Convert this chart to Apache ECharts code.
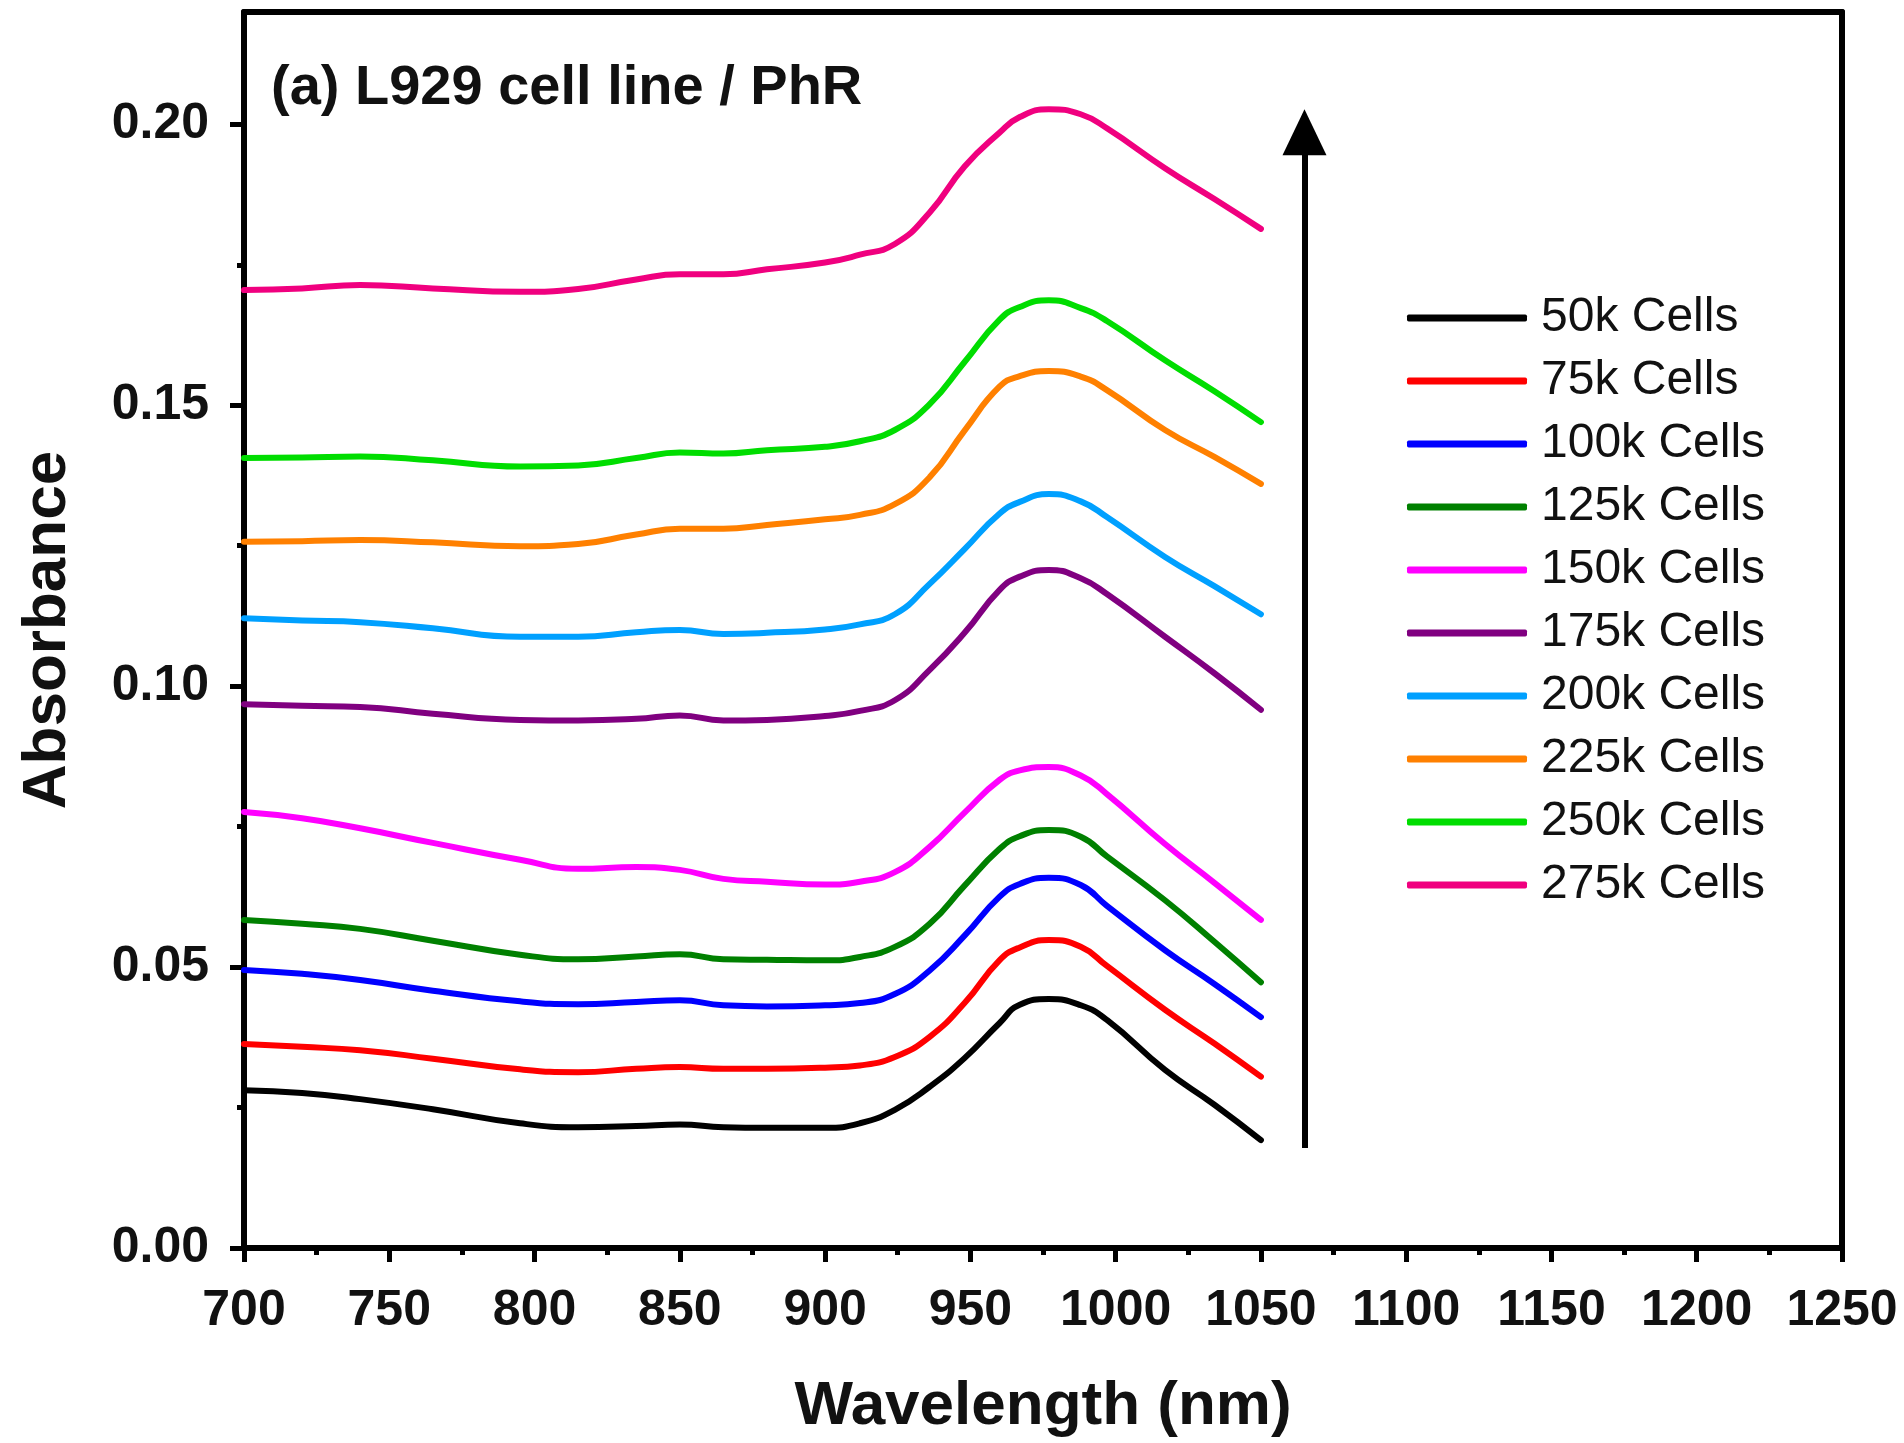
<!DOCTYPE html>
<html>
<head>
<meta charset="utf-8">
<script src="https://cdn.jsdelivr.net/npm/echarts@6/dist/echarts.min.js"></script>
<style>
  html, body { margin: 0; padding: 0; background: #fff; }
  #main { width: 1904px; height: 1443px; }
</style>
</head>
<body>
<div id="main"></div>
<script>
// wavelength grid (nm)
var wavelength = [700, 720, 740, 765, 795, 815, 835, 850, 865, 880, 900, 912, 924, 936, 948, 960, 967, 977, 988, 997, 1017, 1034, 1050];

// absorbance, one array per cell count
var cells50k  = [0.0281, 0.0276, 0.0265, 0.0247, 0.0222, 0.0215, 0.0217, 0.0220, 0.0215, 0.0214, 0.0214, 0.0222, 0.0246, 0.0287, 0.0338, 0.0400, 0.0433, 0.0443, 0.0432, 0.0406, 0.0317, 0.0255, 0.0192];
var cells75k  = [0.0363, 0.0358, 0.0352, 0.0337, 0.0318, 0.0313, 0.0319, 0.0322, 0.0319, 0.0319, 0.0321, 0.0325, 0.0340, 0.0376, 0.0436, 0.0512, 0.0535, 0.0548, 0.0536, 0.0502, 0.0424, 0.0364, 0.0305];
var cells100k = [0.0495, 0.0488, 0.0477, 0.0458, 0.0439, 0.0434, 0.0438, 0.0441, 0.0432, 0.0430, 0.0432, 0.0436, 0.0452, 0.0494, 0.0556, 0.0625, 0.0648, 0.0659, 0.0646, 0.0609, 0.0530, 0.0470, 0.0411];
var cells125k = [0.0584, 0.0577, 0.0568, 0.0547, 0.0522, 0.0514, 0.0519, 0.0523, 0.0514, 0.0513, 0.0512, 0.0518, 0.0536, 0.0577, 0.0645, 0.0710, 0.0733, 0.0744, 0.0732, 0.0697, 0.0619, 0.0545, 0.0473];
var cells150k = [0.0776, 0.0765, 0.0747, 0.0721, 0.0691, 0.0675, 0.0678, 0.0673, 0.0657, 0.0652, 0.0647, 0.0652, 0.0669, 0.0714, 0.0775, 0.0833, 0.0850, 0.0856, 0.0841, 0.0808, 0.0719, 0.0650, 0.0584];
var cells175k = [0.0968, 0.0965, 0.0963, 0.0951, 0.0940, 0.0939, 0.0942, 0.0948, 0.0939, 0.0940, 0.0947, 0.0956, 0.0975, 0.1029, 0.1095, 0.1171, 0.1195, 0.1207, 0.1192, 0.1164, 0.1088, 0.1023, 0.0958];
var cells200k = [0.1121, 0.1117, 0.1114, 0.1103, 0.1088, 0.1088, 0.1096, 0.1100, 0.1093, 0.1095, 0.1101, 0.1110, 0.1128, 0.1182, 0.1244, 0.1307, 0.1328, 0.1342, 0.1329, 0.1301, 0.1230, 0.1178, 0.1128];
var cells225k = [0.1257, 0.1258, 0.1260, 0.1256, 0.1249, 0.1253, 0.1270, 0.1280, 0.1280, 0.1287, 0.1297, 0.1305, 0.1324, 0.1372, 0.1455, 0.1533, 0.1552, 0.1561, 0.1551, 0.1527, 0.1456, 0.1408, 0.1360];
var cells250k = [0.1406, 0.1407, 0.1409, 0.1402, 0.1391, 0.1393, 0.1406, 0.1416, 0.1414, 0.1420, 0.1426, 0.1436, 0.1456, 0.1502, 0.1577, 0.1652, 0.1675, 0.1687, 0.1673, 0.1650, 0.1580, 0.1525, 0.1470];
var cells275k = [0.1705, 0.1708, 0.1714, 0.1708, 0.1702, 0.1707, 0.1724, 0.1733, 0.1733, 0.1742, 0.1754, 0.1768, 0.1787, 0.1843, 0.1925, 0.1985, 0.2013, 0.2027, 0.2018, 0.1993, 0.1922, 0.1867, 0.1814];

var seriesNames = ['50k Cells', '75k Cells', '100k Cells', '125k Cells', '150k Cells', '175k Cells', '200k Cells', '225k Cells', '250k Cells', '275k Cells'];
var seriesValues = [cells50k, cells75k, cells100k, cells125k, cells150k, cells175k, cells200k, cells225k, cells250k, cells275k];
var seriesColors = ['#000000', '#ff0000', '#0000ff', '#008000', '#ff00ff', '#800080', '#00a0ff', '#ff8000', '#00dd00', '#f0007f'];

// ticks
var yTicks = [0, 0.05, 0.10, 0.15, 0.20];
var yMinorTicks = [0.025, 0.075, 0.125, 0.175];

// the "increasing" arrow
var arrowX = 1065;
var arrowY = [0.0178, 0.1986];

var FONT = 'Liberation Sans, Arial, sans-serif';

var myChart = echarts.init(document.getElementById('main'));

var series = [];
for (var i = 0; i < seriesNames.length; i++) {
	var pts = [];
	for (var j = 0; j < wavelength.length; j++) {
		pts.push([wavelength[j], seriesValues[i][j]]);
	}
	series.push({
		name: seriesNames[i],
		type: 'line',
		data: pts,
		smooth: 0.5,
		symbol: 'none',
		lineStyle: { color: seriesColors[i], width: 6, cap: 'round', join: 'round' },
		itemStyle: { color: seriesColors[i] }
	});
}
// arrow drawn as a markLine through the axes
series[series.length - 1].markLine = {
	silent: true,
	symbol: ['none', 'triangle'],
	symbolSize: [44, 46],
	label: { show: false },
	lineStyle: { color: '#000', width: 6, type: 'solid' },
	itemStyle: { color: '#000' },
	data: [[{ coord: [arrowX, arrowY[0]] }, { coord: [arrowX, arrowY[1]] }]]
};

var legendData = [];
for (var k = 0; k < seriesNames.length; k++) {
	legendData.push({ name: seriesNames[k], icon: 'roundRect', itemStyle: { color: seriesColors[k] } });
}

var option = {
	animation: false,
	backgroundColor: '#fff',
	title: {
		text: '(a) L929 cell line / PhR',
		left: 266,
		top: 56,
		textStyle: { fontFamily: FONT, fontWeight: 'bold', fontSize: 56, color: '#111' }
	},
	legend: {
		orient: 'vertical',
		left: 1402,
		top: 287,
		itemWidth: 120,
		itemHeight: 7,
		itemGap: 11,
		data: legendData,
		textStyle: { fontFamily: FONT, fontSize: 48, color: '#111', lineHeight: 52, padding: [0, 0, 0, 9] }
	},
	grid: { left: 244, right: 62, top: 12, bottom: 192 },
	xAxis: [{
		type: 'value',
		min: 700,
		max: 1250,
		interval: 50,
		name: 'Wavelength (nm)',
		nameLocation: 'middle',
		nameGap: 128,
		nameTextStyle: { fontFamily: FONT, fontWeight: 'bold', fontSize: 62, color: '#111' },
		axisLine: { onZero: false, lineStyle: { color: '#000', width: 6 } },
		axisTick: { length: 14, lineStyle: { color: '#000', width: 5 } },
		minorTick: { show: true, splitNumber: 2, length: 7, lineStyle: { color: '#000', width: 5 } },
		splitLine: { show: false },
		axisLabel: { margin: 38, fontFamily: FONT, fontWeight: 'bold', fontSize: 50, color: '#111',
			formatter: function (v) { return String(v); } }
	}, {
		type: 'value', position: 'top', min: 700, max: 1250,
		axisLine: { show: true, onZero: false, lineStyle: { color: '#000', width: 6 } },
		axisTick: { show: false }, axisLabel: { show: false }, splitLine: { show: false }
	}],
	yAxis: [{
		type: 'value',
		min: 0,
		max: 0.22,
		name: 'Absorbance',
		nameLocation: 'middle',
		nameGap: 165,
		nameTextStyle: { fontFamily: FONT, fontWeight: 'bold', fontSize: 62, color: '#111' },
		axisLine: { onZero: false, lineStyle: { color: '#000', width: 6 } },
		axisTick: { length: 14, customValues: yTicks, lineStyle: { color: '#000', width: 5 } },
		splitLine: { show: false },
		axisLabel: { margin: 35, customValues: yTicks, fontFamily: FONT, fontWeight: 'bold', fontSize: 50, color: '#111',
			formatter: function (v) { return v.toFixed(2); } }
	}, {
		type: 'value', position: 'left', min: 0, max: 0.22,
		axisLine: { show: false },
		axisTick: { length: 7, customValues: yMinorTicks, lineStyle: { color: '#000', width: 5 } },
		axisLabel: { show: false }, splitLine: { show: false }
	}, {
		type: 'value', position: 'right', min: 0, max: 0.22,
		axisLine: { show: true, onZero: false, lineStyle: { color: '#000', width: 6 } },
		axisTick: { show: false }, axisLabel: { show: false }, splitLine: { show: false }
	}],
	series: series
};
myChart.setOption(option);
</script>
</body>
</html>
